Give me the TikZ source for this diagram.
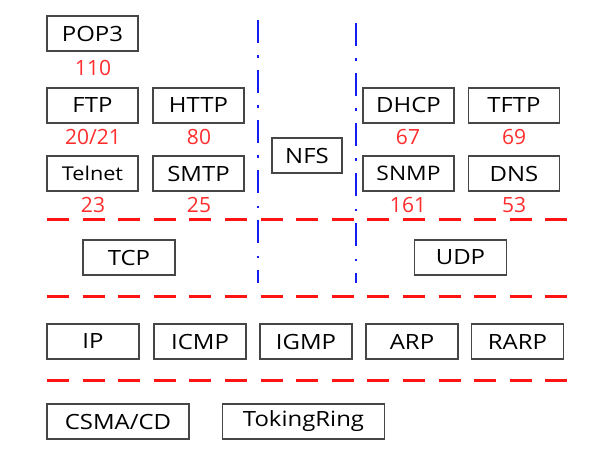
\documentclass[tikz,border=0pt]{standalone}
\usepackage{fontspec}
\setmainfont{Open Sans}[FakeStretch=1.14]
\newfontfamily\numfont{Open Sans}
\definecolor{boxline}{RGB}{70,70,70}
\definecolor{portred}{RGB}{255,45,45}
\definecolor{sepblue}{RGB}{20,30,240}
\definecolor{sepred}{RGB}{255,20,20}
\begin{document}
\begin{tikzpicture}[x=1pt,y=-1pt,
  box/.style={draw=boxline,line width=1.3pt,minimum width=91pt,minimum height=35pt,inner sep=0pt,font=\fontsize{21}{21}\selectfont},
  smallbox/.style={box,font=\fontsize{19}{19}\selectfont},
  port/.style={text=portred,inner sep=0pt,font=\numfont\fontsize{21}{21}\selectfont},
  layersep/.style={draw=sepred,line width=3pt,dash pattern=on 22pt off 13.6pt},
  colsep/.style={draw=sepblue,line width=2.5pt,dash pattern=on 23pt off 12.5pt on 2.5pt off 12pt}]
\useasboundingbox (0,0) rectangle (599,465);
% application layer
\node[box] (pop3) at (92.5,33.5) {POP3};
\node[port] (p110) at (93,68) {110};
\node[box] (ftp) at (92.5,105.5) {FTP};
\node[port] (p2021) at (93,137) {20/21};
\node[box] (http) at (198.5,105.5) {HTTP};
\node[port] (p80) at (199,137) {80};
\node[smallbox] (telnet) at (92.5,173.5) {Telnet};
\node[port] (p23) at (93,205) {23};
\node[box] (smtp) at (198.5,173.5) {SMTP};
\node[port] (p25) at (199,205) {25};
\node[box,minimum width=70pt] (nfs) at (307,155.5) {NFS};
\node[box] (dhcp) at (408.5,105.5) {DHCP};
\node[port] (p67) at (408,137) {67};
\node[box] (tftp) at (514,105.5) {TFTP};
\node[port] (p69) at (514,137) {69};
\node[smallbox,font=\fontsize{20}{20}\selectfont] (snmp) at (408.5,173.5) {SNMP};
\node[port] (p161) at (408,205) {161};
\node[box] (dns) at (514,173.5) {DNS};
\node[port] (p53) at (514,205) {53};
% transport layer
\node[box,minimum width=92pt] (tcp) at (129,257.5) {TCP};
\node[box,minimum width=92pt] (udp) at (460.5,257.5) {UDP};
% network layer
\node[box,minimum width=92pt] (ip) at (93,341.5) {IP};
\node[box,minimum width=92pt] (icmp) at (200,341.5) {ICMP};
\node[box,minimum width=92pt] (igmp) at (306,341.5) {IGMP};
\node[box,minimum width=92pt] (arp) at (412,341.5) {ARP};
\node[box,minimum width=92pt] (rarp) at (517.5,341.5) {RARP};
% link layer
\node[box,minimum width=142pt] (csma) at (118,421.5) {CSMA/CD};
\node[box,minimum width=162pt] (token) at (303.5,421.5) {TokingRing};
% separators
\draw[colsep] (258,20) -- (258,283);
\draw[colsep] (356,23) -- (356,283);
\draw[layersep] (47,219) -- (571,219);
\draw[layersep] (47,296) -- (571,296);
\draw[layersep] (47,380) -- (571,380);
\end{tikzpicture}
\end{document}
